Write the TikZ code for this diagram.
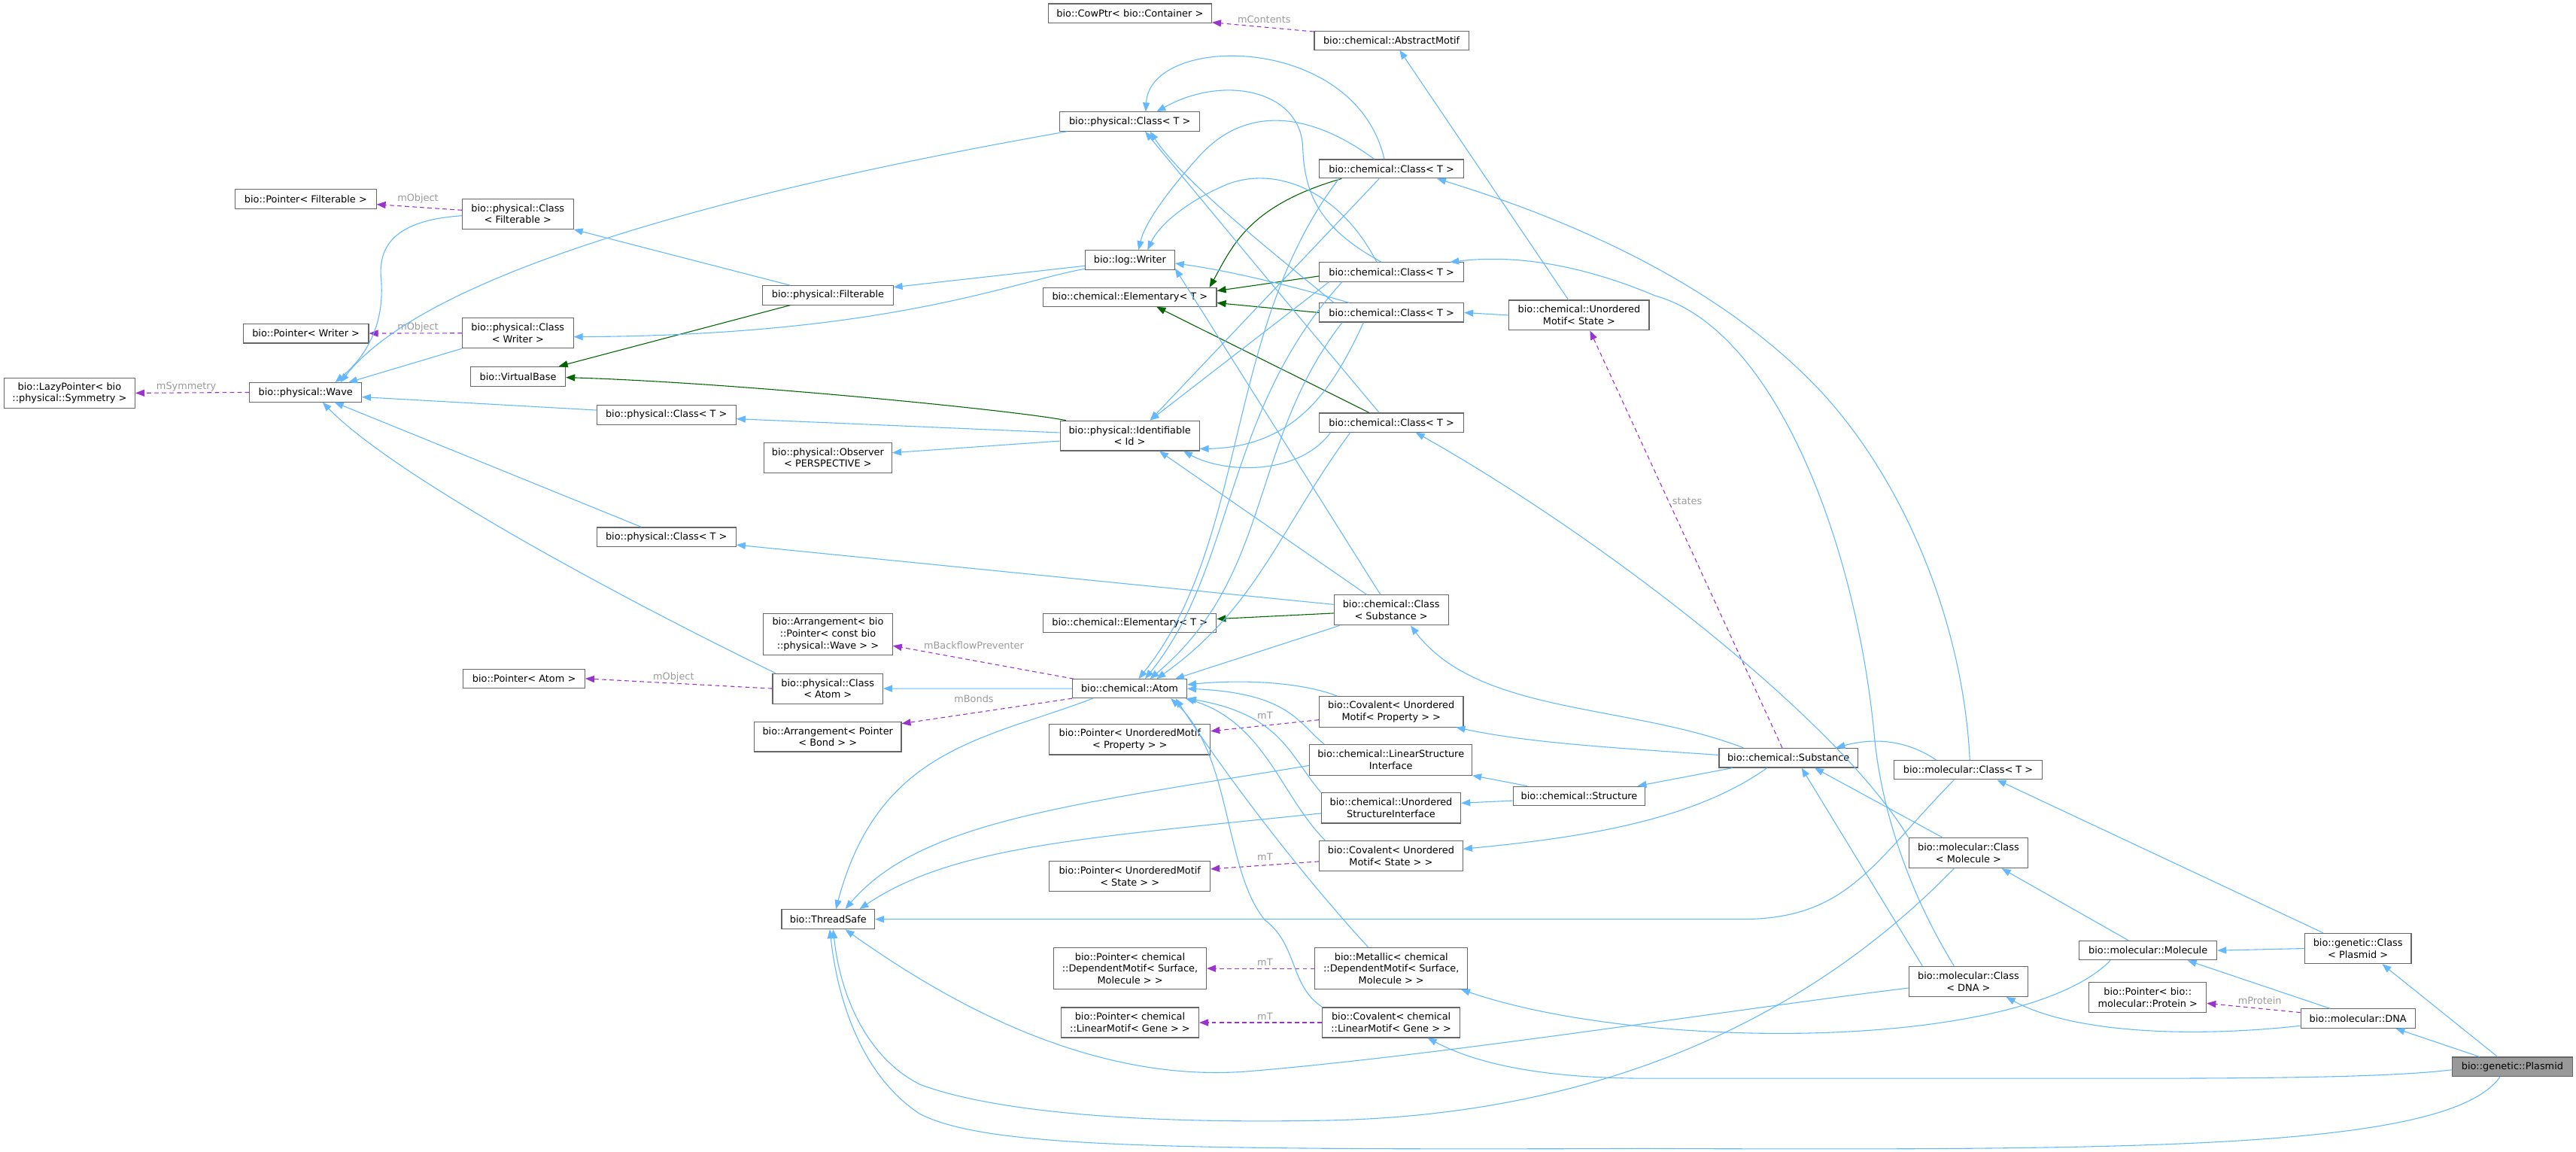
\documentclass[tikz,border=0pt]{standalone}
\usepackage{fontspec}
\setmainfont{DejaVu Sans}
\usetikzlibrary{arrows.meta}
\definecolor{inhc}{HTML}{63B8FF}
\definecolor{grnc}{HTML}{006400}
\definecolor{usec}{HTML}{9A32CD}
\definecolor{lblc}{HTML}{9A9A9A}
\definecolor{boxc}{HTML}{666666}
\definecolor{plasc}{HTML}{999999}
\tikzset{
  box/.style={draw=boxc, line width=0.5pt, fill=white, inner sep=0pt, font=\fontsize{5.9}{7.2}\selectfont, align=center},
  inh/.style={draw=inhc, line width=0.5pt, -{Triangle[length=5.5pt,width=4.2pt]}},
  grn/.style={draw=grnc, line width=0.5pt, -{Triangle[length=5.5pt,width=4.2pt]}},
  use/.style={draw=usec, line width=0.5pt, dash pattern=on 2.6pt off 2pt, -{Triangle[length=5.5pt,width=4.2pt]}},
  lbl/.style={font=\fontsize{5.9}{7.2}\selectfont, text=lblc, inner sep=0pt}
}
\begin{document}
\begin{tikzpicture}[x=1pt,y=-1pt]
\useasboundingbox (0,0) rectangle (1568,701);
% nodes
\node[box, minimum width=99.5pt, minimum height=11.7pt] (cow) at (687.75,8.15) {bio::CowPtr< bio::Container >};
\node[box, minimum width=94pt, minimum height=11.6pt] (absm) at (847,24.7) {bio::chemical::AbstractMotif};
\node[box, minimum width=85pt, minimum height=11.6pt] (pcT1) at (687.7,74) {bio::physical::Class< T >};
\node[box, minimum width=85.8pt, minimum height=11.7pt] (ptrFilt) at (186.1,121.15) {bio::Pointer< Filterable >};
\node[box, minimum width=67.6pt, minimum height=18.4pt] (pcFilt) at (315.2,130.2) {bio::physical::Class\\< Filterable >};
\node[box, minimum width=88pt, minimum height=11.4pt] (cc1) at (847,102.8) {bio::chemical::Class< T >};
\node[box, minimum width=54.5pt, minimum height=11.7pt] (writer) at (687.75,158.25) {bio::log::Writer};
\node[box, minimum width=88pt, minimum height=11.5pt] (cc2) at (847,165.55) {bio::chemical::Class< T >};
\node[box, minimum width=79.3pt, minimum height=11.6pt] (filt) at (503.95,179.7) {bio::physical::Filterable};
\node[box, minimum width=105.5pt, minimum height=11.3pt] (elem1) at (687.75,180.85) {bio::chemical::Elementary< T >};
\node[box, minimum width=88pt, minimum height=11.5pt] (cc3) at (847,190.25) {bio::chemical::Class< T >};
\node[box, minimum width=85.2pt, minimum height=18.3pt] (ums) at (961.2,191.85) {bio::chemical::Unordered\\Motif< State >};
\node[box, minimum width=76.4pt, minimum height=11.8pt] (ptrWriter) at (186.2,202.9) {bio::Pointer< Writer >};
\node[box, minimum width=67.6pt, minimum height=18.3pt] (pcWriter) at (315.2,202.75) {bio::physical::Class\\< Writer >};
\node[box, minimum width=57.8pt, minimum height=11.8pt] (vbase) at (315.3,229.1) {bio::VirtualBase};
\node[box, minimum width=79.8pt, minimum height=18.4pt] (lazy) at (42.3,239.2) {bio::LazyPointer< bio\\::physical::Symmetry >};
\node[box, minimum width=68pt, minimum height=11.6pt] (wave) at (186,238.8) {bio::physical::Wave};
\node[box, minimum width=84.8pt, minimum height=11.8pt] (pcT2) at (405.6,252.4) {bio::physical::Class< T >};
\node[box, minimum width=88pt, minimum height=11.5pt] (cc4) at (847,257.15) {bio::chemical::Class< T >};
\node[box, minimum width=84.7pt, minimum height=18.2pt] (ident) at (687.65,265.2) {bio::physical::Identifiable\\< Id >};
\node[box, minimum width=78pt, minimum height=18.3pt] (obs) at (503.9,278.55) {bio::physical::Observer\\< PERSPECTIVE >};
\node[box, minimum width=84.8pt, minimum height=11.8pt] (pcT3) at (405.6,326.9) {bio::physical::Class< T >};
\node[box, minimum width=69.6pt, minimum height=18.3pt] (ccSub) at (846.8,371.35) {bio::chemical::Class\\< Substance >};
\node[box, minimum width=105.4pt, minimum height=11.7pt] (elem2) at (687.7,379.25) {bio::chemical::Elementary< T >};
\node[box, minimum width=78.5pt, minimum height=25.1pt] (arrWave) at (503.95,385.95) {bio::Arrangement< bio\\::Pointer< const bio\\::physical::Wave > >};
\node[box, minimum width=74pt, minimum height=11.7pt] (ptrAtom) at (319,413) {bio::Pointer< Atom >};
\node[box, minimum width=67.1pt, minimum height=18.3pt] (pcAtom) at (503.85,419.05) {bio::physical::Class\\< Atom >};
\node[box, minimum width=69.6pt, minimum height=11.4pt] (atom) at (687.6,419.1) {bio::chemical::Atom};
\node[box, minimum width=89.5pt, minimum height=18.3pt] (arrBond) at (503.85,448.35) {bio::Arrangement< Pointer\\< Bond > >};
\node[box, minimum width=87.7pt, minimum height=18.5pt] (covProp) at (846.85,433.15) {bio::Covalent< Unordered\\Motif< Property > >};
\node[box, minimum width=97.9pt, minimum height=18.4pt] (ptrUMP) at (687.75,450.1) {bio::Pointer< UnorderedMotif\\< Property > >};
\node[box, minimum width=98.8pt, minimum height=18.5pt] (lsi) at (846.6,462.45) {bio::chemical::LinearStructure\\Interface};
\node[box, minimum width=84.4pt, minimum height=11.8pt] (subst) at (1088.6,461.2) {bio::chemical::Substance};
\node[box, minimum width=90pt, minimum height=11.7pt] (molClassT) at (1198,468.55) {bio::molecular::Class< T >};
\node[box, minimum width=80.4pt, minimum height=11.7pt] (struct) at (961.2,484.45) {bio::chemical::Structure};
\node[box, minimum width=84.9pt, minimum height=18.5pt] (usi) at (846.75,491.75) {bio::chemical::Unordered\\StructureInterface};
\node[box, minimum width=72.5pt, minimum height=18.3pt] (molClassMol) at (1198.15,519.15) {bio::molecular::Class\\< Molecule >};
\node[box, minimum width=87.4pt, minimum height=18.2pt] (covState) at (846.7,520.9) {bio::Covalent< Unordered\\Motif< State > >};
\node[box, minimum width=97.8pt, minimum height=18.5pt] (ptrUMS) at (687.7,533.25) {bio::Pointer< UnorderedMotif\\< State > >};
\node[box, minimum width=56.6pt, minimum height=11.9pt] (tsafe) at (504.1,559.45) {bio::ThreadSafe};
\node[box, minimum width=83.8pt, minimum height=11.7pt] (molecule) at (1307.5,578.45) {bio::molecular::Molecule};
\node[box, minimum width=64.9pt, minimum height=18.5pt] (genClassPl) at (1435.25,577.25) {bio::genetic::Class\\< Plasmid >};
\node[box, minimum width=92.9pt, minimum height=25pt] (ptrDep) at (687.85,589.4) {bio::Pointer< chemical\\::DependentMotif< Surface,\\Molecule > >};
\node[box, minimum width=92.9pt, minimum height=25pt] (metallic) at (846.85,589.4) {bio::Metallic< chemical\\::DependentMotif< Surface,\\Molecule > >};
\node[box, minimum width=72.5pt, minimum height=18.4pt] (molClassDNA) at (1198.15,597.3) {bio::molecular::Class\\< DNA >};
\node[box, minimum width=71.4pt, minimum height=18.3pt] (ptrProt) at (1307.3,607.15) {bio::Pointer< bio::\\molecular::Protein >};
\node[box, minimum width=69.7pt, minimum height=11.7pt] (dna) at (1435.25,619.85) {bio::molecular::DNA};
\node[box, minimum width=83.8pt, minimum height=18.3pt] (ptrGene) at (687.8,622.35) {bio::Pointer< chemical\\::LinearMotif< Gene > >};
\node[box, minimum width=83.8pt, minimum height=18.3pt] (covGene) at (846.8,622.35) {bio::Covalent< chemical\\::LinearMotif< Gene > >};
\node[box, fill=plasc, minimum width=73.1pt, minimum height=11.8pt] (plasmid) at (1529.25,649.3) {bio::genetic::Plasmid};

% ---- usage (dashed) edges
\draw[use] ([yshift=-0.6pt]absm.north west) -- ([yshift=0.6pt]cow.south east);
\draw[use] ([yshift=2.3pt]pcFilt.west) -- ([yshift=-3.25pt]ptrFilt.east);
\draw[use] (pcWriter.west) -- (ptrWriter.east);
\draw[use] (wave.west) -- (lazy.east);
\draw[use] (pcAtom.west) -- (ptrAtom.east);
\draw[use] ([xshift=1pt]atom.north west) -- ([yshift=-7.05pt]arrWave.east);
\draw[use] (atom.south west) -- ([yshift=7.95pt]arrBond.east);
\draw[use] ([yshift=-4.95pt]covProp.west) -- ([yshift=5.1pt]ptrUMP.east);
\draw[use] ([yshift=-3.4pt]covState.west) -- ([yshift=4.35pt]ptrUMS.east);
\draw[use] (metallic.west) -- (ptrDep.east);
\draw[use] (covGene.west) -- (ptrGene.east);
\draw[use] ([yshift=3.65pt]dna.west) -- ([yshift=-3.45pt]ptrProt.east);
\draw[use] ([xshift=-3.8pt]subst.north) -- ([xshift=6.6pt]ums.south);

% labels
\node[lbl] (lMC) at (769.5,11.8) {mContents};
\node[lbl] (lMO1) at (254.4,121) {mObject};
\node[lbl] (lMO2) at (254.4,199) {mObject};
\node[lbl] (lMO3) at (410,412) {mObject};
\node[lbl] (lMS) at (113.4,235.4) {mSymmetry};
\node[lbl] (lMB) at (592.8,392.8) {mBackflowPreventer};
\node[lbl] (lMBo) at (592.8,425.1) {mBonds};
\node[lbl] (lT1) at (770,435.4) {mT};
\node[lbl] (lT2) at (770,521.6) {mT};
\node[lbl] (lT3) at (770,585.7) {mT};
\node[lbl] (lT4) at (770,618.5) {mT};
\node[lbl] (lMP) at (1375.5,609) {mProtein};
\node[lbl] (lST) at (1027,305) {states};

% ---- green edges
\draw[grn] ([xshift=-30.4pt]cc1.south) .. controls (760,125) and (750,150) .. ([xshift=48.45pt]elem1.north);
\draw[grn] ([yshift=-2.5pt]cc2.west) -- ([yshift=3.85pt]elem1.east);
\draw[grn] (cc3.west) -- ([yshift=-3.5pt]elem1.east);
\draw[grn] ([xshift=-13.6pt]cc4.north) -- ([xshift=16.25pt]elem1.south);
\draw[grn] ([yshift=-1.85pt]ccSub.west) -- ([yshift=2.55pt]elem2.east);
\draw[grn] ([xshift=-38.85pt]ident.north) .. controls (620,250) and (450,233) .. ([yshift=-0.6pt]vbase.east);
\draw[grn] ([xshift=-22.95pt]filt.south) -- ([xshift=24.8pt]vbase.north);

% ---- inheritance edges
\draw[inh] ([xshift=-6.4pt,yshift=9.15pt]ums.center) -- ([xshift=4.9pt,yshift=-5.8pt]absm.center);
\draw[inh] (ums.west) -- (cc3.east);
% to physical::Class<T>
\draw[inh] ([xshift=-4.4pt]cc1.north) .. controls (825,20) and (700,20) .. ([xshift=9.7pt]pcT1.north);
\draw[inh] ([xshift=-6pt]cc2.north) .. controls (805,140) and (794,120) .. (793,90) .. controls (792,55) and (745,45) .. ([xshift=16.3pt]pcT1.north);
\draw[inh] ([xshift=-35pt]cc3.north) .. controls (770,150) and (720,110) .. ([xshift=12.3pt]pcT1.south);
\draw[inh] ([xshift=-7.5pt]cc4.north) .. controls (805,210) and (730,120) .. ([xshift=9.3pt]pcT1.south);
% to log::Writer
\draw[inh] ([xshift=-10.5pt]cc1.north) .. controls (800,70) and (760,62) .. (730,95) .. controls (712,115) and (697,135) .. ([xshift=5.25pt]writer.north);
\draw[inh] ([xshift=-9pt]cc2.north) .. controls (815,115) and (775,100) .. (745,113) .. controls (720,124) and (705,138) .. ([xshift=10.75pt]writer.north);
\draw[inh] ([xshift=-25.8pt]cc3.north) .. controls (790,175) and (750,165) .. ([yshift=-2pt]writer.east);
\draw[inh] ([xshift=-6.5pt]ccSub.north) -- ([yshift=1pt]writer.south east);
% to Identifiable
\draw[inh] ([xshift=-7.5pt]cc1.south) -- ([xshift=12.35pt]ident.north);
\draw[inh] ([xshift=-38pt]cc2.south) -- ([xshift=12.35pt]ident.north);
\draw[inh] ([xshift=-17pt]cc3.south) .. controls (812,235) and (790,272) .. ([yshift=-8pt]ident.east);
\draw[inh] ([xshift=-37pt]cc4.south) .. controls (790,290) and (745,288) .. ([xshift=32.65pt]ident.south);
\draw[inh] ([xshift=-14.8pt]ccSub.north) -- ([xshift=18pt]ident.south);
% to Atom (top)
\draw[inh] ([xshift=-32pt]cc1.south) .. controls (745,200) and (760,330) .. ([xshift=5.4pt]atom.north);
\draw[inh] ([xshift=-30pt]cc2.south) .. controls (745,250) and (752,345) .. ([xshift=9.4pt]atom.north);
\draw[inh] ([xshift=-30pt]cc3.south) .. controls (760,270) and (775,350) .. ([xshift=12.4pt]atom.north);
\draw[inh] ([xshift=-25pt]cc4.south) .. controls (780,320) and (765,370) .. ([xshift=16.4pt]atom.north);
\draw[inh] ([xshift=-31.5pt]ccSub.south) -- ([xshift=27.7pt]atom.north);
% Class<Substance>
\draw[inh] ([yshift=3.45pt]ccSub.west) -- ([yshift=-4.7pt]pcT3.east);
% Identifiable
\draw[inh] ([yshift=1.9pt]ident.west) -- ([yshift=-2.5pt]pcT2.east);
\draw[inh] ([yshift=-3.2pt]ident.west) -- ([yshift=3pt]obs.east);
% filterable / writer
\draw[inh] ([xshift=-22.95pt]filt.north) -- (pcFilt.south east);
\draw[inh] ([yshift=-3.55pt]writer.west) -- ([yshift=4.9pt]filt.east);
\draw[inh] ([yshift=-5.35pt]writer.west) .. controls (615,172) and (540,204) .. ([yshift=-2.25pt]pcWriter.east);
% to Wave
\draw[inh] ([xshift=4.5pt]pcT1.south west) .. controls (450,115) and (260,165) .. ([xshift=21.2pt]wave.north);
\draw[inh] ([yshift=-1.1pt]pcFilt.west) .. controls (240,134) and (230,150) .. (232,170) .. controls (234,195) and (225,215) .. ([xshift=18pt]wave.north);
\draw[inh] (pcWriter.south west) -- ([xshift=26pt]wave.north);
\draw[inh] ([yshift=2.8pt]pcT2.west) -- ([yshift=-2.8pt]wave.east);
\draw[inh] ([xshift=-15.2pt]pcT3.north) -- ([xshift=17.6pt]wave.south);
\draw[inh] ([xshift=2pt]pcAtom.north west) .. controls (380,365) and (240,290) .. ([xshift=10.4pt]wave.south);
% Atom
\draw[inh] (atom.west) -- (pcAtom.east);
\draw[inh] ([xshift=-32.85pt]covProp.north) .. controls (795,416) and (760,413) .. ([yshift=2.4pt]atom.east);
\draw[inh] ([xshift=-40.5pt]lsi.north) .. controls (790,440) and (785,422) .. (atom.east);
\draw[inh] (usi.north west) .. controls (785,460) and (780,435) .. (atom.south east);
\draw[inh] ([xshift=-40pt]covState.north) .. controls (780,485) and (770,440) .. ([xshift=-1pt]atom.south east);
\draw[inh] ([xshift=-13.85pt]metallic.north) .. controls (790,530) and (745,470) .. ([xshift=28pt]atom.south);
\draw[inh] ([xshift=-41.9pt]covGene.north) .. controls (785,600) and (790,575) .. (770,560) .. controls (745,530) and (750,460) .. ([xshift=25pt]atom.south);
% ThreadSafe
\draw[inh] ([xshift=-22.4pt]atom.south) .. controls (600,450) and (535,455) .. ([xshift=4.7pt]tsafe.north);
\draw[inh] ([yshift=-3.45pt]lsi.west) .. controls (650,490) and (560,500) .. ([xshift=10.4pt]tsafe.north);
\draw[inh] ([yshift=-3.25pt]usi.west) .. controls (660,510) and (580,515) .. ([xshift=19.1pt]tsafe.north);
\draw[inh] ([xshift=-8.6pt]molClassT.south) .. controls (1140,525) and (1125,559.45) .. (1060,559.45) -- (tsafe.east);
\draw[inh] ([xshift=-8.75pt]molClassMol.south) .. controls (1120,600) and (1000,680) .. (800,682) .. controls (680,684) and (600,675) .. (560,660) .. controls (530,645) and (512,610) .. ([xshift=3pt]tsafe.south);
\draw[inh] ([yshift=-4pt]molClassDNA.west) .. controls (1050,615) and (880,642) .. (760,652) .. controls (660,660) and (570,605) .. ([xshift=10.4pt]tsafe.south);
\draw[inh] ([xshift=-7.55pt]plasmid.south) .. controls (1490,700) and (1300,700) .. (1000,699) .. controls (700,700) and (600,698) .. (560,678) .. controls (525,655) and (510,610) .. ([xshift=1pt]tsafe.south);
% molecular
\draw[inh] ([xshift=-22.9pt]molecule.south) .. controls (1230,640) and (1000,640) .. ([xshift=-4.3pt]metallic.south east);
\draw[inh] ([yshift=-1.8pt]plasmid.west) .. controls (1460,655) and (1400,656.3) .. (1300,656.3) -- (1000,656.3) .. controls (940,656) and (900,648) .. ([xshift=22.2pt]covGene.south);
\draw[inh] ([xshift=-9pt]plasmid.north) -- ([xshift=14.75pt]genClassPl.south);
\draw[inh] ([xshift=-20pt]plasmid.north) -- ([xshift=23pt]dna.south);
\draw[inh] ([xshift=-17pt]dna.north) -- ([xshift=24pt]molecule.south);
\draw[inh] ([yshift=-4.45pt]dna.west) .. controls (1330,632) and (1260,628) .. ([xshift=23pt]molClassDNA.south);
\draw[inh] (genClassPl.west) -- (molecule.east);
\draw[inh] ([xshift=-21.15pt]genClassPl.north) -- ([xshift=17.6pt]molClassT.south);
\draw[inh] ([xshift=-11.9pt]molecule.north) -- ([xshift=20.25pt]molClassMol.south);
\draw[inh] ([xshift=-19.6pt]molClassT.north) .. controls (1160,450) and (1140,449) .. ([xshift=29pt]subst.north);
\draw[inh] ([xshift=-15.65pt]molClassMol.north) -- ([xshift=15.9pt]subst.south);
\draw[inh] ([xshift=-28pt]molClassDNA.north) -- ([xshift=8pt]subst.south);
\draw[inh] ([xshift=1pt]molClassT.north) .. controls (1195,380) and (1160,295) .. (1110,240) .. controls (1050,175) and (960,135) .. ([xshift=27.7pt]cc1.south);
\draw[inh] (molClassMol.north west) .. controls (1120,440) and (980,330) .. ([xshift=14.7pt]cc4.south);
\draw[inh] ([xshift=-8.75pt]molClassDNA.north) .. controls (1160,540) and (1145,490) .. (1141,449) .. controls (1130,330) and (1080,200) .. (1007.5,180) .. controls (960,160) and (920,155) .. ([xshift=-8.7pt]cc2.north east);
% Substance
\draw[inh] ([xshift=-27.5pt]subst.north) .. controls (990,428) and (900,435) .. ([xshift=11.8pt]ccSub.south);
\draw[inh] ([yshift=1.7pt]subst.west) .. controls (980,455) and (930,452) .. ([xshift=39.45pt]covProp.south);
\draw[inh] ([xshift=-34pt]subst.south) -- ([xshift=35.5pt]struct.north);
\draw[inh] ([xshift=-13pt]subst.south) .. controls (1030,500) and (960,510) .. ([yshift=4.2pt]covState.east);
\draw[inh] ([xshift=-31.6pt]struct.north) -- (lsi.south east);
\draw[inh] ([yshift=-2.85pt]struct.west) -- ([yshift=3pt]usi.east);
\end{tikzpicture}
\end{document}
